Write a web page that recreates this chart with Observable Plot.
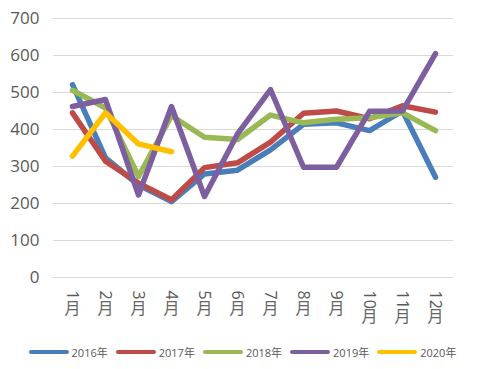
<!DOCTYPE html>
<html>
<head>
<meta charset="utf-8">
<script src="https://cdn.jsdelivr.net/npm/d3@7"></script>
<script src="https://cdn.jsdelivr.net/npm/@observablehq/plot@0.6"></script>
<style>
  body { margin: 0; background: #fff; width: 485px; height: 369px; position: relative; overflow: hidden; }
  #legend { position: absolute; left: 0; top: 344px; width: 485px; display: flex; justify-content: center; align-items: center;
    font-family: "Open Sans", "Noto Sans CJK SC", sans-serif; font-size: 11px; color: #595959; }
  .item { display: flex; align-items: center; margin: 0 4px; }
  .sw { width: 40px; height: 4px; border-radius: 2px; margin-right: 3px; }
</style>
</head>
<body>
<div id="chart"></div>
<div id="legend"></div>
<script>
const months = ["1月","2月","3月","4月","5月","6月","7月","8月","9月","10月","11月","12月"];
const years = ["2016年","2017年","2018年","2019年","2020年"];
const colors = ["#4a7ebb","#be4b48","#98b954","#7d5fa0","#ffc000"];
const s2016 = [521, 323, 250, 205, 280, 290, 345, 414, 418, 397, 450, 271];
const s2017 = [445, 314, 255, 210, 297, 310, 366, 444, 450, 429, 464, 447];
const s2018 = [506, 458, 273, 437, 379, 373, 439, 418, 428, 432, 445, 397];
const s2019 = [462, 481, 223, 462, 219, 388, 508, 298, 298, 449, 450, 605];
const s2020 = [328, 445, 361, 340];
const yTicks = [0, 100, 200, 300, 400, 500, 600, 700];

const series = [s2016, s2017, s2018, s2019, s2020];
const data = [];
series.forEach((s, k) => s.forEach((v, i) => data.push({month: months[i], value: v, year: years[k]})));

const num = m => m.replace("月", "");
const short = months.filter(m => num(m).length === 1);
const long = months.filter(m => num(m).length > 1);

const plot = Plot.plot({
  width: 485,
  height: 340,
  marginTop: 18,
  marginBottom: 63,
  marginLeft: 53,
  marginRight: 32,
  style: {fontFamily: "'Open Sans', 'Noto Sans CJK SC', sans-serif", fontSize: "15px", color: "#595959", background: "#fff"},
  x: {type: "point", domain: months, padding: 0.5, axis: null},
  y: {domain: [0, 700], axis: null},
  color: {domain: years, range: colors},
  marks: [
    Plot.gridY(yTicks, {stroke: "#d9d9d9", strokeOpacity: 1, strokeWidth: 1}),
    Plot.axisY(yTicks, {tickSize: 0, tickPadding: 14, fontSize: 17, fill: "#595959", label: null}),
    Plot.line(data, {x: "month", y: "value", z: "year", stroke: "year", strokeWidth: 5.5, strokeLinejoin: "round", strokeLinecap: "round"}),
    // month numbers, rotated like vertical text
    Plot.text(months, {x: d => d, frameAnchor: "bottom", dy: 13, text: num, rotate: 90, textAnchor: "start", lineAnchor: "middle", fontSize: 16, fill: "#595959"}),
    // upright 月 below the number
    Plot.text(short, {x: d => d, frameAnchor: "bottom", dy: 25, text: () => "月", lineAnchor: "top", fontSize: 16, fill: "#666", fontFamily: "Noto Sans CJK SC"}),
    Plot.text(long, {x: d => d, frameAnchor: "bottom", dy: 33, text: () => "月", lineAnchor: "top", fontSize: 16, fill: "#666", fontFamily: "Noto Sans CJK SC"})
  ]
});
document.getElementById("chart").appendChild(plot);

const legend = document.getElementById("legend");
years.forEach((y, i) => {
  const it = document.createElement("div");
  it.className = "item";
  const sw = document.createElement("div");
  sw.className = "sw";
  sw.style.background = colors[i];
  const tx = document.createElement("span");
  tx.textContent = y;
  it.appendChild(sw); it.appendChild(tx);
  legend.appendChild(it);
});
</script>
</body>
</html>
